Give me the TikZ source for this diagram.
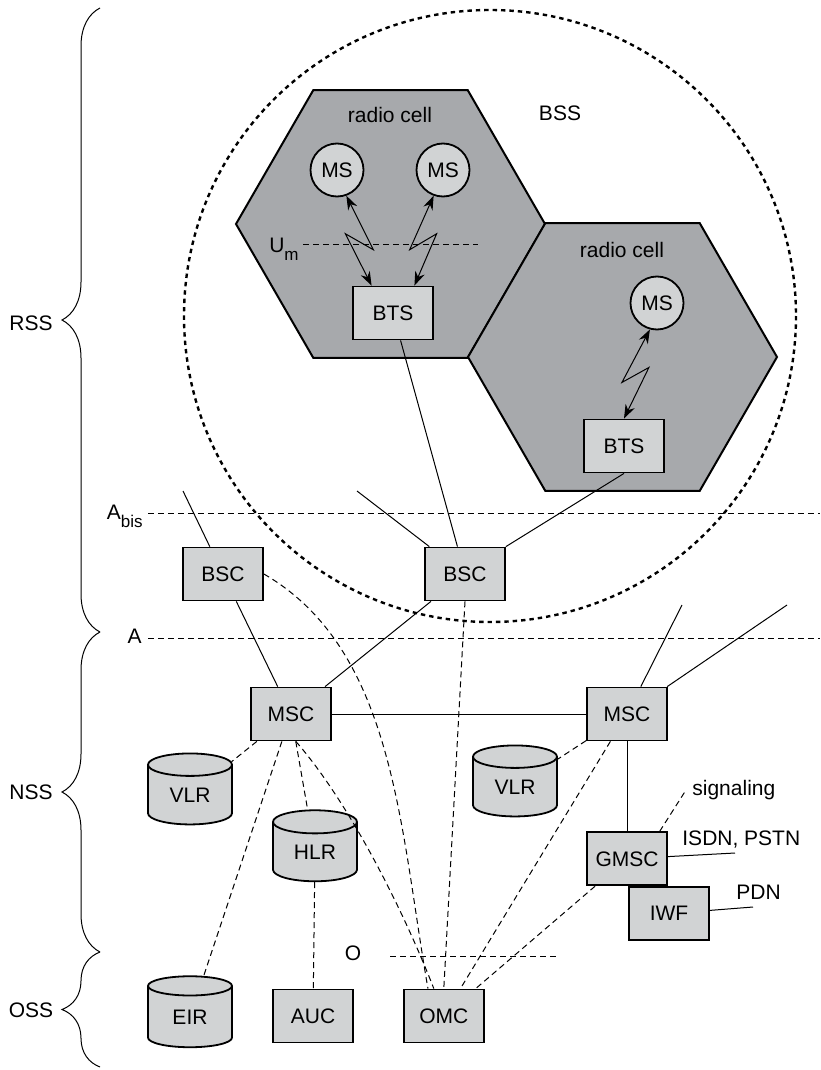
\documentclass[tikz,border=0pt]{standalone}
\usepackage{fontspec}
\setmainfont{Liberation Sans}
\usetikzlibrary{arrows.meta,positioning,shapes.geometric,decorations.pathreplacing}
\definecolor{cellGrey}{HTML}{A7A9AC}
\definecolor{unitGrey}{HTML}{D1D3D4}
\newcommand{\gsmfont}{\fontsize{10.5}{12.6}\selectfont}
\newcommand{\lowsub}[1]{\raisebox{-4pt}{\fontsize{8.5}{10}\selectfont #1}}

\begin{document}
\begin{tikzpicture}[x=0.5pt,y=-0.5pt,>={Stealth[length=7pt,width=5pt]}]
\tikzstyle{netbox}=[draw,fill=unitGrey,line width=.9pt,minimum width=40pt,minimum height=26.5pt,inner sep=0pt,font=\gsmfont]
\tikzstyle{mobile}=[draw,fill=unitGrey,circle,line width=.9pt,minimum size=26.5pt,inner sep=0pt,font=\gsmfont]
\tikzstyle{db}=[draw,fill=unitGrey,cylinder,shape border rotate=90,aspect=.55,line width=.9pt,minimum width=42pt,minimum height=35.5pt,inner sep=0pt,font=\gsmfont]
\tikzstyle{lbl}=[inner sep=0pt,font=\gsmfont]
\tikzstyle{cellhex}=[draw,fill=cellGrey,line width=1pt,line join=miter]
\tikzstyle{bssring}=[line width=1.2pt,dash pattern=on 2.2pt off 2pt]
\tikzstyle{wire}=[line width=.5pt]
\tikzstyle{sig}=[line width=.5pt,dash pattern=on 3pt off 2pt]
\tikzstyle{iface}=[line width=.5pt,dash pattern=on 3pt off 2pt]
\tikzstyle{radio}=[line width=.5pt,<->]
\tikzstyle{ssbrace}=[decorate,decoration={brace,amplitude=19pt},line width=.5pt]
\useasboundingbox (0,0) rectangle (820,1070);

% subsystems
\draw[ssbrace] (100,632) -- (100,8);
\draw[ssbrace] (100,952) -- (100,632);
\draw[ssbrace] (100,1067) -- (100,952);
\node[lbl] (rss) at (31,323) {RSS};
\node[lbl] (nss) at (31,792) {NSS};
\node[lbl] (oss) at (31,1010) {OSS};

% radio cells and BSS
\draw[bssring] (490,316) circle[radius=306];
\foreach \cx/\cy in {390.5/224,622.5/357}{\draw[cellhex] (\cx,\cy) +(0:154.5) -- +(60:154.5) -- +(120:154.5) -- +(180:154.5) -- +(240:154.5) -- +(300:154.5) -- cycle;}
\node[lbl] (cellA) at (390,115) {radio cell};
\node[lbl] (cellB) at (622,250) {radio cell};
\node[lbl] (bss) at (560,113) {BSS};

% interfaces
\draw[iface] (303,244) -- (478,244);
\draw[iface] (148,513) -- (820,513);
\draw[iface] (148,638) -- (820,638);
\draw[iface] (390,956) -- (557,956);
\node[lbl,anchor=base east] (um) at (299,252) {U\lowsub{m}};
\node[lbl,anchor=base east] (abis) at (143,519) {A\lowsub{bis}};
\node[lbl,anchor=base east] (aif) at (142,643) {A};
\node[lbl] (oif) at (353,953) {O};

\node[mobile] (ms1) at (337,170) {MS};
\node[mobile] (ms2) at (443,170) {MS};
\node[mobile] (ms3) at (657,303) {MS};
\node[netbox] (bts1) at (393,313) {BTS};
\node[netbox] (bts2) at (624,446) {BTS};
\node[netbox] (bsc1) at (223,574) {BSC};
\node[netbox] (bsc2) at (465,574) {BSC};
\node[netbox] (msc1) at (291,714) {MSC};
\node[netbox] (msc2) at (627,714) {MSC};
\node[netbox,below=45pt of msc2] (gmsc) {GMSC};
\node[netbox,below=0pt of gmsc,xshift=21pt] (iwf) {IWF};
\node[db] (vlr1) at (190,795) {VLR};
\node[db] (vlr2) at (515,787) {VLR};
\node[db] (hlr) at (315,852) {HLR};
\node[db] (eir) at (190,1017) {EIR};
\node[netbox] (auc) at (313,1016) {AUC};
\node[netbox,right=24.5pt of auc] (omc) {OMC};

\node[lbl,anchor=base west] (sigtxt) at (692,795) {signaling};
\node[lbl,anchor=base west] (isdn) at (682,845) {ISDN, PSTN};
\node[lbl,anchor=base west] (pdn) at (736,899) {PDN};
\coordinate (bscup1) at (183,491);
\coordinate (bscup2) at (357,491);
\coordinate (mscup1) at (682,605);
\coordinate (mscup2) at (787,605);
\coordinate (isdnend) at (735,853);
\coordinate (pdnend) at (753,907);
\coordinate (sigend) at (686,790);

% air interface
\draw[radio] (ms1.-70) -- ++(27,54) -- ++(-28,-16) -- (bts1.128);
\draw[radio] (ms2.-110) -- ++(-24,54) -- ++(27,-16) -- (bts1.52);
\draw[radio] (ms3.-105) -- ++(-28,53) -- ++(27,-15) -- (bts2.north);

% lines
\foreach \a/\b in {bts1/bsc2,bsc1/msc1,bsc2/msc1,msc1/msc2,msc2/gmsc,bsc1/bscup1,bsc2/bscup2,msc2/mscup1,msc2/mscup2,gmsc/isdnend,iwf/pdnend}{\draw[wire] (\a) -- (\b);}
\draw[wire] (bts2.south) -- (bsc2.north east);

% signaling
\foreach \a/\b in {msc1/vlr1,msc1/eir,msc1/hlr,msc2/vlr2,msc2/omc,gmsc/omc,hlr/auc}{\draw[sig] (\a) -- (\b);}
\draw[sig] (bsc2.south) -- (omc.north);
\draw[sig] (gmsc.40) -- (sigend);
\draw[sig] (bsc1.east) .. controls (395,650) and (400,830) .. (omc.120);
\draw[sig] (msc1.-80) .. controls (348,801) and (402,907) .. (omc.110);
\end{tikzpicture}
\end{document}
